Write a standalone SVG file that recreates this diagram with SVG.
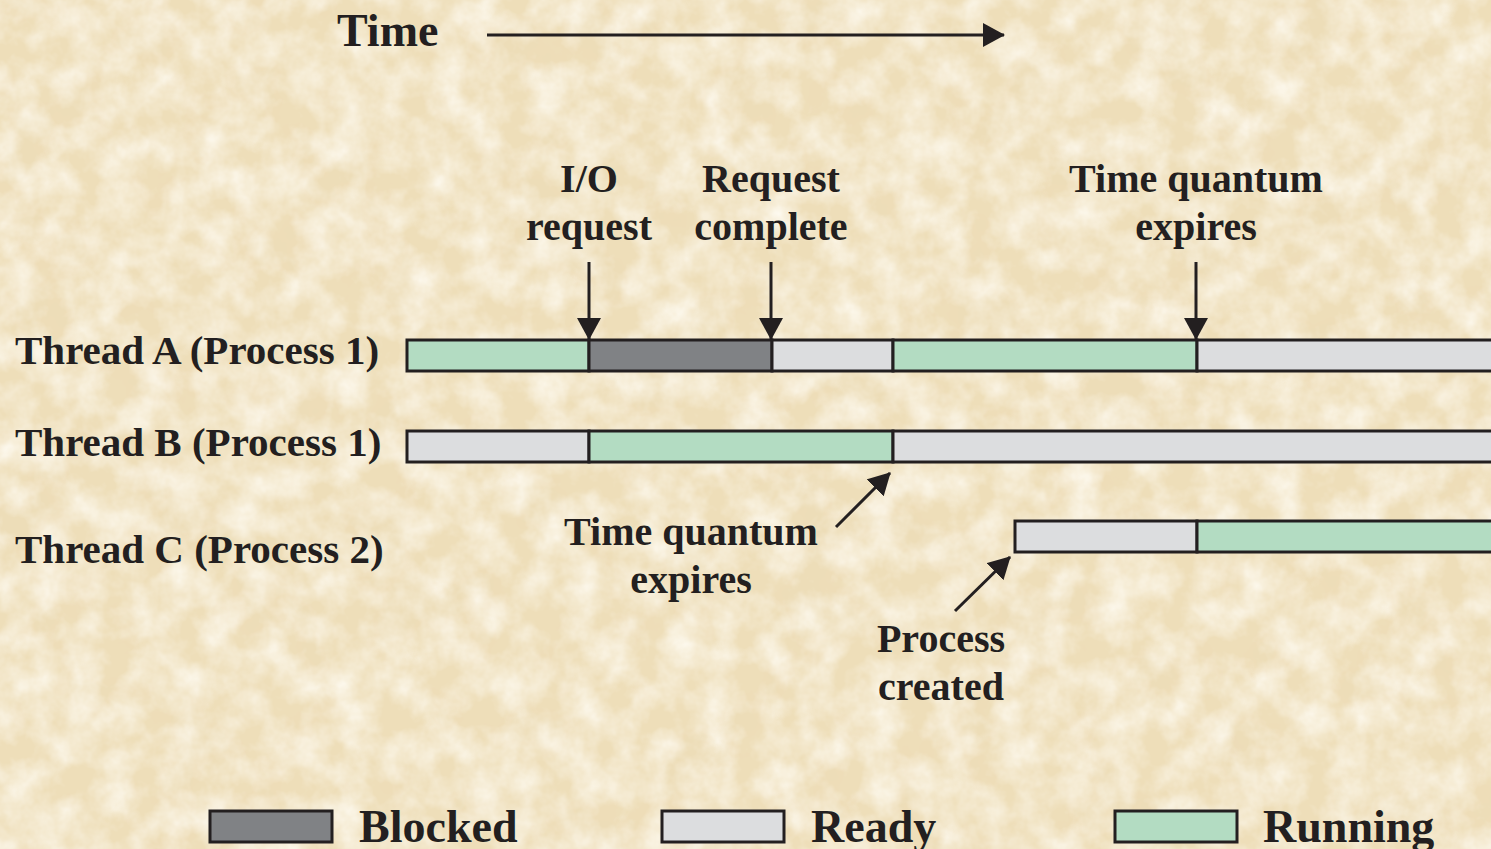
<svg xmlns="http://www.w3.org/2000/svg" width="1491" height="849" viewBox="0 0 1491 849">
  <style>
    .lbl { font-family: "Liberation Serif", "Times New Roman", serif; font-weight: bold; fill: #231F20; }
    .big { font-size: 46px; }
    .mid { font-size: 40px; }
    .row { font-size: 41px; }
    .ctr { text-anchor: middle; }
    .seg { stroke: #231F20; stroke-width: 3; }
    .run { fill: #B3DCC2; }
    .rdy { fill: #DCDDDF; }
    .blk { fill: #808285; }
    .conn { stroke: #231F20; stroke-width: 3; fill: none; }
  </style>
  <defs>
    <marker id="head" viewBox="0 0 22 24" refX="21" refY="12" markerWidth="22" markerHeight="24" markerUnits="userSpaceOnUse" orient="auto">
      <path d="M0,0 L22,12 L0,24 z" fill="#231F20"/>
    </marker>
    <filter id="paperDark" x="0" y="0" width="100%" height="100%">
      <feTurbulence type="fractalNoise" baseFrequency="0.014" numOctaves="5" seed="7" result="n"/>
      <feColorMatrix in="n" type="matrix" values="0 0 0 0 0.84  0 0 0 0 0.71  0 0 0 0 0.47  1.2 0 0 0 -0.5"/>
    </filter>
    <filter id="paperLight" x="0" y="0" width="100%" height="100%">
      <feTurbulence type="fractalNoise" baseFrequency="0.03" numOctaves="4" seed="21" result="n"/>
      <feColorMatrix in="n" type="matrix" values="0 0 0 0 1  0 0 0 0 0.98  0 0 0 0 0.92  0 1.4 0 0 -0.45"/>
    </filter>
  </defs>

  <!-- parchment background -->
  <rect width="1491" height="849" fill="#EEDEB9"/>
  <rect width="1491" height="849" filter="url(#paperDark)"/>
  <rect width="1491" height="849" filter="url(#paperLight)"/>

  <!-- time axis -->
  <g id="time-axis">
    <text class="lbl big" x="337" y="46">Time</text>
    <line class="conn" x1="487" y1="35" x2="1004" y2="35" marker-end="url(#head)"/>
  </g>

  <!-- thread rows -->
  <g id="thread-a">
    <text class="lbl row" x="15" y="364">Thread A (Process 1)</text>
    <rect class="seg run" x="407" y="340" width="182" height="31"/>
    <rect class="seg blk" x="589" y="340" width="183" height="31"/>
    <rect class="seg rdy" x="772" y="340" width="121" height="31"/>
    <rect class="seg run" x="893" y="340" width="304" height="31"/>
    <rect class="seg rdy" x="1197" y="340" width="310" height="31"/>
  </g>
  <g id="thread-b">
    <text class="lbl row" x="15" y="456">Thread B (Process 1)</text>
    <rect class="seg rdy" x="407" y="431" width="182" height="31"/>
    <rect class="seg run" x="589" y="431" width="304" height="31"/>
    <rect class="seg rdy" x="893" y="431" width="614" height="31"/>
  </g>
  <g id="thread-c">
    <text class="lbl row" x="15" y="563">Thread C (Process 2)</text>
    <rect class="seg rdy" x="1015" y="521" width="182" height="31"/>
    <rect class="seg run" x="1197" y="521" width="310" height="31"/>
  </g>

  <!-- event labels -->
  <g id="io-request">
    <text class="lbl mid ctr" x="589" y="192">I/O</text>
    <text class="lbl mid ctr" x="589" y="240">request</text>
  </g>
  <g id="request-complete">
    <text class="lbl mid ctr" x="771" y="192">Request</text>
    <text class="lbl mid ctr" x="771" y="240">complete</text>
  </g>
  <g id="quantum-a">
    <text class="lbl mid ctr" x="1196" y="192">Time quantum</text>
    <text class="lbl mid ctr" x="1196" y="240">expires</text>
  </g>
  <g id="quantum-b">
    <text class="lbl mid ctr" x="691" y="545">Time quantum</text>
    <text class="lbl mid ctr" x="691" y="593">expires</text>
  </g>
  <g id="process-created">
    <text class="lbl mid ctr" x="941" y="652">Process</text>
    <text class="lbl mid ctr" x="941" y="700">created</text>
  </g>

  <!-- connectors -->
  <g id="connectors">
    <line class="conn" x1="589" y1="262" x2="589" y2="339" marker-end="url(#head)"/>
    <line class="conn" x1="771" y1="262" x2="771" y2="339" marker-end="url(#head)"/>
    <line class="conn" x1="1196" y1="262" x2="1196" y2="339" marker-end="url(#head)"/>
    <line class="conn" x1="836" y1="527" x2="890" y2="473" marker-end="url(#head)"/>
    <line class="conn" x1="955" y1="611" x2="1010" y2="557" marker-end="url(#head)"/>
  </g>

  <!-- legend -->
  <g id="legend-blocked">
    <rect class="seg blk" x="210" y="811" width="122" height="31"/>
    <text class="lbl big" x="359" y="842">Blocked</text>
  </g>
  <g id="legend-ready">
    <rect class="seg rdy" x="662" y="811" width="122" height="31"/>
    <text class="lbl big" x="811" y="842">Ready</text>
  </g>
  <g id="legend-running">
    <rect class="seg run" x="1115" y="811" width="122" height="31"/>
    <text class="lbl big" x="1263" y="842">Running</text>
  </g>
</svg>
